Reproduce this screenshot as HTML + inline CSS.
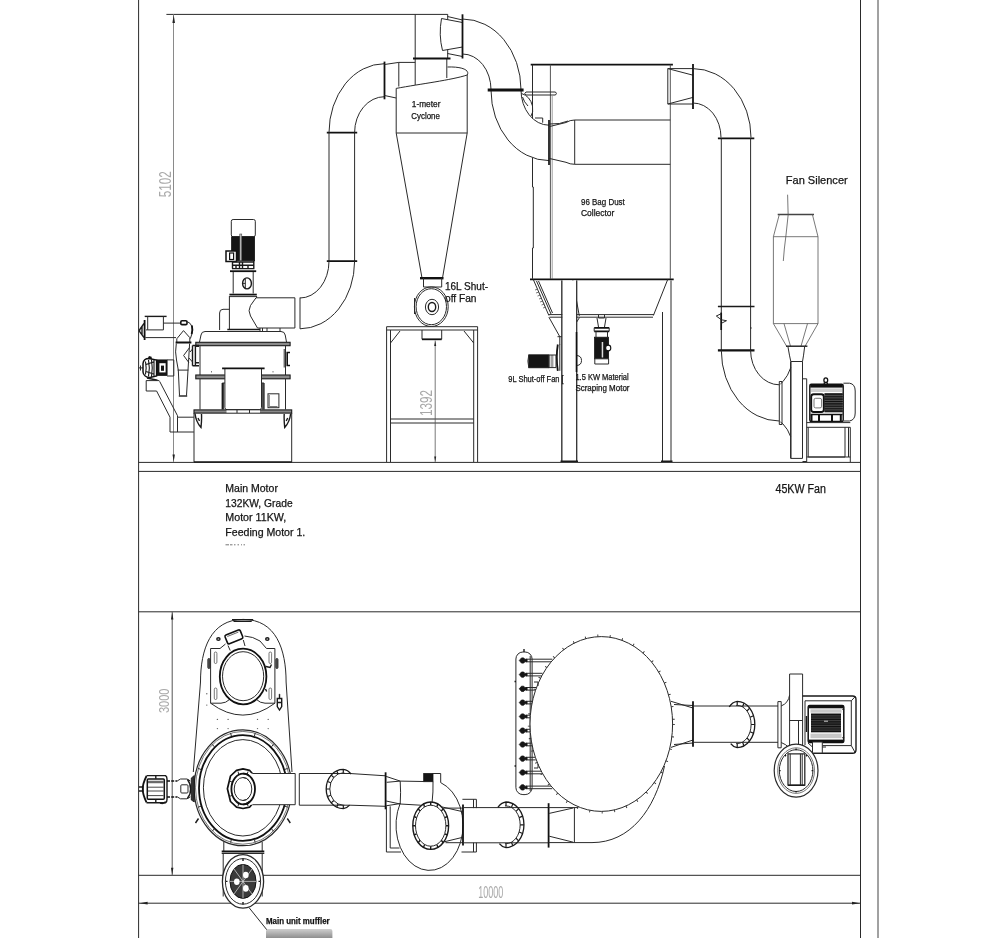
<!DOCTYPE html>
<html>
<head>
<meta charset="utf-8">
<title>Grinding mill system layout</title>
<style>
html,body{margin:0;padding:0;background:#fff;}
body{width:1000px;height:938px;overflow:hidden;font-family:"Liberation Sans",sans-serif;}
svg{display:block;position:absolute;left:0;top:0;filter:blur(0.4px);}
svg text{font-family:"Liberation Sans",sans-serif;}
.l{fill:none;stroke:#2a2a2a;stroke-width:1;}
.t{fill:none;stroke:#111;stroke-width:1.8;}
.m{fill:none;stroke:#1a1a1a;stroke-width:1.4;}
.g{fill:none;stroke:#555;stroke-width:0.8;}
.w{fill:#fff;stroke:#2a2a2a;stroke-width:1;}
.k{fill:#151515;stroke:#151515;stroke-width:0.8;}
.dim{fill:#a8a8a8;font-size:11px;}
.lbl{fill:#151515;stroke:#151515;stroke-width:0.25;}
</style>
</head>
<body>
<svg width="1000" height="938" viewBox="0 0 1000 938">
<rect x="0" y="0" width="1000" height="938" fill="#fff"/>

<!-- ===== FRAME ===== -->
<g id="frame" class="l">
<line x1="138.6" y1="0" x2="138.6" y2="938"/>
<line x1="860.5" y1="0" x2="860.5" y2="938"/>
<line x1="878" y1="0" x2="878" y2="938" style="stroke:#444"/>
<line x1="138.6" y1="462.4" x2="860.5" y2="462.4"/>
<line x1="138.6" y1="471.4" x2="860.5" y2="471.4"/>
<line x1="138.6" y1="611.8" x2="860.5" y2="611.8"/>
<line x1="138.6" y1="875.3" x2="860.5" y2="875.3"/>
<line x1="138.6" y1="903.2" x2="860.5" y2="903.2"/>
<!-- top dimension -->
<line x1="166.4" y1="14.4" x2="447.7" y2="14.4"/>
<line x1="173.5" y1="14.4" x2="173.5" y2="462" style="stroke:#8a8a8a"/>
<line x1="172.2" y1="611.8" x2="172.2" y2="875.3" style="stroke:#555"/>
</g>

<!-- SECTION: FRONT VIEW -->
<g id="ducts-front">
<!-- left riser pipe -->
<path class="l" d="M329,132.6 V261.2 M354.6,132.6 V261.2"/>
<path class="t" d="M326.8,132.6 H357.2 M326.8,261.2 H357.2"/>
<!-- upper-left elbow -->
<path class="l" d="M329,132.6 A55.5,68.9 0 0 1 384.5,63.7 M354.6,132.6 A29.9,35.9 0 0 1 384.5,96.7"/>
<path class="t" d="M384.5,61.6 V99.3"/>
<path class="l" d="M384.5,64.5 L398.8,62.4 H415.2 M398.8,62.4 V86.5 M384.5,95.5 L396.2,98"/>
<!-- lower-left elbow to mill -->
<path class="l" d="M354.6,261.2 A54.6,67.6 0 0 1 300,328.8 M329,261.2 A29,36.8 0 0 1 300,298 M300,297.5 V328.8"/>
<!-- cyclone top pipe -->
<path class="l" d="M415.2,14.3 V85 M447.7,14.3 V58.5 M446.8,58.5 V78"/>
<path class="t" d="M413,58.5 H450.5"/>
<!-- cyclone body -->
<path class="l" d="M396.2,88.4 V133 H467.2 V75 M396.2,88.4 C420,84 452,80 467.2,75 C470,70 462,66.5 447.5,67"/>
<path class="l" d="M396.2,133 L422,278 M467.2,133 L442.5,278"/>
<!-- cyclone outlet box + right elbow -->
<path class="w" d="M441.5,18.5 L462.5,22.5 V47 L442.5,50.5 Q438.5,35 441.5,18.5 Z"/>
<path class="l" d="M447.5,53.5 L462.5,56.5 M447.5,16.5 L462.5,20"/>
<path class="t" d="M462.5,14.3 V58.5"/>
<path class="l" d="M462.5,19 A58.5,70.7 0 0 1 521,89.7 M462.5,54 A28.5,35.7 0 0 1 491,89.7"/>
<!-- cone bottom flange + rotary valve -->
<path class="t" d="M420,278.2 H443.5" style="stroke-width:2.4"/>
<path class="l" d="M423.5,278 V287 M441.7,278 V287 M423.5,287 H441.7"/>
<ellipse class="l" cx="431.3" cy="306.7" rx="16.9" ry="19.8"/>
<ellipse class="l" cx="431.3" cy="306.7" rx="15.2" ry="18"/>
<ellipse class="l" cx="432" cy="307" rx="6.6" ry="7.7"/>
<ellipse class="m" cx="432" cy="307" rx="3.7" ry="4.5"/>
<path class="l" d="M414.5,298 V314"/>
</g>
<g id="mill">
<!-- vertical motor -->
<rect class="w" x="231.3" y="219.5" width="24" height="17.2" rx="1.8"/>
<rect class="k" x="231.6" y="236.8" width="23" height="24"/>
<rect x="239.8" y="234" width="2" height="26.8" fill="#bbb" stroke="#333" stroke-width="0.5"/>
<rect x="226" y="251" width="10.5" height="10.5" fill="#fff" stroke="#111" stroke-width="1.5"/>
<rect x="229.6" y="253" width="4" height="6.5" fill="#fff" stroke="#111" stroke-width="1.2"/>
<path class="m" d="M232.5,262 H253.8 M232.5,265.3 H253.8 M232,268.6 H254.4 M232.5,261 V268.6 M253.8,261 V268.6 M239.5,262 V268.6 M242.5,262 V268.6 M248,265 V268.6 M236,265 V268.6"/>
<path class="t" d="M230,271.2 H256.2"/>
<!-- coupling column -->
<path class="l" d="M233.2,272 V293.5 M253.2,272 V293.5"/>
<ellipse class="m" cx="247" cy="283.4" rx="4.4" ry="5.5"/>
<path class="l" d="M245.3,278.5 V288.3 M243,283.4 H245.3"/>
<path class="t" d="M229.4,294.6 H256.8"/>
<path class="l" d="M229.4,296.6 H256.8"/>
<!-- upper housing + outlet duct -->
<path class="l" d="M229.4,296 V329.5 M256.6,296 V299"/>
<path class="w" d="M256,297.8 H294.9 V328 H257.5 L250.5,316 Q247.6,310.7 250.5,305.5 Z"/>
<path class="l" d="M229.4,309.3 H223 Q219.6,309.3 219.6,313 V330"/>
<path class="m" d="M227.3,329.5 H260"/>
<path class="l" d="M260,328 V331 M262.5,328 V331 M267,328 V331 M280,328 V331"/>
<!-- top plate / body -->
<path class="l" d="M199.5,342 L201,335 Q201.5,331.5 205,331.5 H281 Q284.6,331.5 285.2,335 L286.5,342"/>
<rect x="195.8" y="342.3" width="94.3" height="3.4" fill="#8a8a8a" stroke="#1a1a1a" stroke-width="1.1"/>
<path class="l" d="M200,346 V375 M285.5,346 V375"/>
<rect x="195.8" y="375" width="94.3" height="3.8" fill="#8a8a8a" stroke="#1a1a1a" stroke-width="1.1"/>
<path class="l" d="M200,379 V409.5 M285.5,379 V409.5"/>
<path class="g" d="M211.5,371 v1.5 M273,371 v1.5"/>
<!-- door handle right -->
<path d="M290,352.5 H287.2 V365.5 H290" stroke="#111" stroke-width="1.6" fill="none"/>
<path class="l" d="M284.2,349 V367.5"/>
<!-- centre box -->
<path d="M224.9,368.3 H261.5 V409.7 H224.9 Z" fill="#fff" stroke="none"/>
<path class="l" d="M224.9,368.3 V407.5 Q224.9,409.7 227,409.7 H259.4 Q261.5,409.7 261.5,407.5 V368.3"/>
<path class="t" d="M222.1,368.3 H264.6"/>
<path class="m" d="M222.3,383 V409.5 M263.9,383 V409.5"/>
<path class="l" d="M223.6,383 V409.5 M262.7,383 V409.5 M222.3,383 H224.9 M261.5,383 H263.9"/>
<rect class="l" x="268" y="393.8" width="10.9" height="13.9"/>
<path class="g" d="M269.3,395 V406.5 H277.5"/>
<!-- base -->
<rect x="194" y="409.9" width="97.7" height="3.2" fill="#8a8a8a" stroke="#1a1a1a" stroke-width="1.1"/>
<rect x="226.5" y="410.4" width="33.5" height="2.2" fill="#fff" stroke="none"/>
<path class="l" d="M237,410 V413 M249.5,410 V413"/>
<path class="l" d="M194,413 V462 M291.7,413 V462"/>
<path class="m" d="M194,462 H291.7"/>
<path class="m" d="M195,413.5 Q196,422 201,427.5 Q201.8,420 201.5,414 M198,418 l1.5,3 M290.7,413.5 Q289.7,422 284.7,427.5 Q283.9,420 284.2,414 M287.7,418 l-1.5,3"/>
</g>
<g id="feeder">
<!-- hopper + screw -->
<path class="m" d="M144.7,316.4 H166.6"/>
<path class="l" d="M147.7,316.4 V329.9 H163.4 V316.4"/>
<path class="l" d="M163.4,323.1 H180.5 M145.4,337.6 H176"/>
<path d="M144.6,320 V340" stroke="#111" stroke-width="1.8" fill="none"/>
<path class="m" d="M144,323.5 L139.6,329.8 L139.6,331.6 L144,337.5 M142,326.5 V335"/>
<path class="l" d="M146,329.9 H147.7"/>
<rect x="180.8" y="320.8" width="6.2" height="3.8" rx="1.2" fill="#fff" stroke="#111" stroke-width="1.6"/>
<path class="l" d="M187.2,321.6 Q190.5,322.5 192.2,327 Q193.4,332 190.4,338.6"/>
<path d="M191.9,325.5 Q193,330 191.6,334" stroke="#111" stroke-width="1.8" fill="none"/>
<!-- funnel + separator -->
<path class="l" d="M176.8,338.8 L183.5,330.6 L189.5,337.3 M176.8,338.8 V342 M189.8,337.3 V342"/>
<path d="M175.6,342.5 H191.4" stroke="#111" stroke-width="2" fill="none"/>
<path class="l" d="M176.3,343.5 Q174.8,352 176.5,360 L178.3,370.1 M189.6,343.5 L188,370.1"/>
<path class="l" d="M189.6,347.5 L183.6,355.5 L188.8,362.5"/>
<path class="l" d="M177.6,370.1 H188.4 M178.3,370.1 L179.5,395.5 M188,370.1 L186.5,395.5"/>
<path class="m" d="M178.8,396 H187.2"/>
<!-- inlet nozzle -->
<path class="m" d="M192.5,345.5 V365.7 M195.4,345.5 V365.7 M192.5,345.5 H199 M192.5,365.7 H199 M195.4,346.3 H199 M195.4,362.7 H199"/>
<path class="l" d="M192.5,349 L190,352 M192.5,362 L189,358"/>
<!-- feeder motor -->
<path class="l" d="M138.7,367.9 H143 M140.5,365.5 V370.5"/>
<path d="M143,363.5 Q143.5,358.5 149,358.5 L156.6,360 V376 L150,377.6 Q143.5,377 143,372 Z" fill="#fff" stroke="#111" stroke-width="1.5"/>
<path d="M145.5,361.5 Q146.8,368 145.5,374.5 M148.5,360 Q150.2,368 148.5,376.3 M151.5,359.5 Q153,368 151.5,376.8 M154,359.8 V376.5 M146,364.5 L153.5,362 M146,371.5 L153.5,374" stroke="#111" stroke-width="1.1" fill="none"/>
<path d="M148.5,358.5 L149.3,356.8 L151,357.2 L151.2,359" stroke="#111" stroke-width="1.3" fill="#111"/>
<rect x="156.8" y="359.9" width="10.3" height="15.5" fill="#161616" stroke="#111" stroke-width="0.8"/>
<rect x="159.4" y="363.2" width="6.2" height="9.2" fill="#fff"/>
<rect x="161" y="365.6" width="3" height="5.2" fill="#161616"/>
<path class="l" d="M167.1,359.9 H173.8 V376 H167.1"/>
<path class="m" d="M147,378 L157.5,380.3"/>
<!-- chute -->
<path class="l" d="M146.2,380.6 H159.3 M146.2,380.6 V391 H156.6"/>
<path class="l" d="M159.6,381.3 L177.5,415.7 M156.6,391 L170,417.2 V432 H193.9 M177.5,415.7 V417.2 H193.9 M177.5,417.2 V432"/>
</g>
<g id="dustcollector">
<path class="t" d="M530.7,64.7 H672.9"/>
<path class="l" d="M532.5,64.7 V187 M533.3,187 V248 M532.5,248 V278.7 M532.5,187 H533.3 M532.5,248 H533.3"/>
<path class="l" d="M550.4,64.7 V278.7 M670.3,64.7 V278.7" style="stroke:#555"/>
<path class="g" d="M552.2,96 V278.7" style="stroke:#888"/>
<!-- internal duct -->
<path class="l" d="M549.7,126.5 L566,122.5 Q570,120 574.7,120 H670.3 M549.7,158.5 L566,162.3 Q570,164.3 574.7,164.3 H670.3 M574.7,120 V164.3 M549.7,124 Q560,124.5 568,121"/>
<!-- small pipe -->
<path class="l" d="M526,92 H555.5 Q557.3,93.5 555.5,95 H526 Q523.5,93.5 526,92 Z"/>
<!-- outlet -->
<path class="l" d="M667.8,68.6 V104 M667.8,68.6 H693 M667.8,104 H693 M667.8,68.6 L693,75.2 M667.8,104 L693,97.4"/>
<path class="t" d="M693,64 V109"/>
<path class="l" d="M693,68.6 A58,68.9 0 0 1 751,137.5 M693,103 A28,34.5 0 0 1 721,137.5"/>
<path class="t" d="M717.9,138.3 H754.3"/>
<path class="l" d="M721.3,138.3 V350.3 M750.6,138.3 V350.3"/>
<path class="m" d="M717.9,306.5 H754.5"/>
<path class="t" d="M717.9,350.3 H754.5" style="stroke-width:2.2"/>
<!-- valve handle -->
<path d="M721.2,312.6 V330" fill="none" stroke="#111" stroke-width="1.7"/>
<path class="l" d="M721,313.8 L716.3,316 L721,319.5 M721.4,319.8 L726.5,320.7 L721.6,323.2"/>
<path d="M750.6,326.8 l1.2,1.2 l-1.2,1.2 Z" fill="#222"/>
<!-- hopper -->
<path class="t" d="M530,279.3 H673.7"/>
<path class="l" d="M533.3,279.5 L548.9,315.5 M667.7,279.5 L653.4,315.5 M548.9,314.6 H654 M549.5,317.2 H653"/>
<path class="l" d="M572.8,280 L579.3,315.9 M536.5,281 L551,314 M538.5,281 L552.5,313"/>
<path class="g" d="M535,290 l3,-1 M536,293 l3,-1 M537.5,296 l3,-1 M539,299 l3,-1 M540,302 l3,-1 M541.5,305 l3,-1 M543,308 l3,-1"/>
<!-- legs -->
<path class="w" d="M561.9,280.5 V462 M576.7,280.5 V462"/>
<rect x="562.4" y="280.5" width="13.8" height="181" fill="#fff"/>
<path class="l" d="M561.9,280.5 V462 M576.7,280.5 V462 M662.5,312 V462 M671,280.5 V462"/>
<path class="m" d="M560.5,461.3 H578 M661,461.3 H672.5"/>
<!-- lower funnel & shutoff fan -->
<path class="l" d="M548.9,317.2 L559.8,336.7 M576.7,322 L579.5,317.5 M559.8,336.7 V345 M557.5,336.7 H561.9"/>
<path d="M557.8,344.5 Q555.8,357 557.8,370.8" fill="none" stroke="#111" stroke-width="1.8"/>
<path class="l" d="M559.8,344.5 V370.8"/>
<path d="M576.5,332 V372" fill="none" stroke="#111" stroke-width="1.6"/>
<path class="l" d="M577,355.5 Q581.5,356 581.5,360.5 Q581.5,365 577,365.5"/>
<rect class="k" x="528.8" y="354.8" width="20" height="13"/>
<path class="l" d="M528.8,354.8 Q527,361 528.8,367.8"/>
<path d="M549.5,355 V367.6 M551.2,355 V367.6 M552.8,355 V367.6" stroke="#555" stroke-width="0.8" fill="none"/>
<path class="l" d="M548.8,355 H556 V367.6 H548.8"/>
<!-- scraping motor -->
<path class="l" d="M598.5,314.6 V318 H604.5 V314.6 M597,318 L598.5,327 M606,318 L604.5,327"/>
<path class="t" d="M594.2,327.8 H609.2 M594.2,331.3 H609.2"/>
<path class="l" d="M594.2,327.8 V331.3 M609.2,327.8 V331.3 M596,331.3 V337 M607.5,331.3 V337"/>
<rect class="k" x="594.6" y="337.2" width="14" height="21.6"/>
<rect x="601.7" y="342" width="1.5" height="15.5" fill="#ddd"/>
<ellipse cx="608.2" cy="348" rx="2.6" ry="2.9" fill="#fff" stroke="#111" stroke-width="1.1"/>
<path class="w" d="M594.8,358.8 H608.6 V364 H594.8 Z"/>
</g>
<g id="sbend">
<path d="M491,90 A58,70.6 0 0 0 549,160.6 L549,125.2 A28,35.2 0 0 1 521,90 Z" fill="#fff" stroke="none"/>
<path class="l" d="M491,90 A58,70.6 0 0 0 549,160.6 M521,90 A28,35.2 0 0 0 549,125.2"/>
<path class="t" d="M549,120 V165" style="stroke-width:1.7"/>
<path class="t" style="stroke-width:3" d="M487.7,90 H523.6"/>
<path class="l" d="M521.5,93.5 Q530,96 532.5,106 Q533.5,113 531,116 M522.5,97 Q524,102 528,106"/>
<path class="l" d="M535,118 H542.7 V122.7"/>
</g>
<g id="fan-front">
<!-- lower elbow -->
<path class="l" d="M721.3,350.3 A58,70.7 0 0 0 779.3,421 M750.6,350.3 A28.7,34.5 0 0 0 779.3,384.8"/>
<path class="l" d="M779.3,381.5 V424.5 M782,381.5 V424.5 M779.3,381.5 H782 M779.3,424.5 H782"/>
<!-- fan housing -->
<path class="m" d="M790.8,361.5 V458.4"/>
<path class="l" d="M802.5,361.5 V458.4 M790.8,458.4 H802.5 M790.8,361.5 H802.5"/>
<path class="l" d="M783,381.5 Q788,376 790.8,367.5 M783,424 Q788,429 790.8,437 M780.4,384 L783,381.5 M780.4,422 L783,424"/>
<path class="l" d="M802.5,378.8 H806.7 V462 M802.5,461.5 H806.7"/>
<!-- silencer -->
<path class="m" d="M777.7,214.5 H814" style="stroke:#444"/>
<path class="g" d="M779.3,214.5 L773.4,236.7 V323.6 L786.6,346.2 M812.4,214.5 L818,236.7 V323.6 L805.1,346.2 M773.4,236.7 H818 M773.4,323.6 H818"/>
<path class="g" d="M784,323.6 L790.5,346.2 M807.5,323.6 L801,346.2"/>
<path class="m" d="M786,346.2 H807.4"/>
<path class="l" d="M788,347 Q789.5,356 790.8,361.5 M804.6,347 Q803.6,356 802.5,361.5"/>
<path class="g" d="M787.6,194.7 Q789.5,215 786,235 Q784,250 783.3,261"/>
<!-- motor -->
<rect x="809.8" y="384.3" width="33.4" height="37.2" rx="1.5" fill="#fff" stroke="#111" stroke-width="1.4"/>
<rect x="810.2" y="384" width="32.6" height="3.6" fill="#111"/>
<rect x="811" y="388.4" width="31" height="3.6" fill="#cfcfcf"/>
<rect x="824.5" y="393" width="18.3" height="19.4" fill="#4a4a4a"/>
<path d="M824.5,394.3 H842.8 M824.5,396.7 H842.8 M824.5,399.1 H842.8 M824.5,401.5 H842.8 M824.5,403.9 H842.8 M824.5,406.3 H842.8 M824.5,408.7 H842.8 M824.5,411.1 H842.8" stroke="#111" stroke-width="1.1" fill="none"/>
<rect x="811.2" y="394.2" width="12.6" height="17.8" rx="2.5" fill="#fff" stroke="#111" stroke-width="1.9"/>
<rect x="814" y="398.3" width="7.6" height="9.6" rx="1.6" fill="#fff" stroke="#555" stroke-width="0.8"/>
<path d="M810.5,414.5 H842.5" stroke="#111" stroke-width="1.6" fill="none"/>
<path d="M811.5,415 V421.5 M819,415 V421.5 M832,415 V421.5 M840.8,415 V421.5" stroke="#111" stroke-width="2" fill="none"/>
<path class="l" d="M843.4,383.2 H849.5 Q855.2,384 855.2,391 V413 Q855.2,420 849.5,421 H843.4"/>
<ellipse cx="825.8" cy="380.2" rx="1.9" ry="2.3" fill="#fff" stroke="#111" stroke-width="1.3"/>
<path class="m" d="M824.3,382.5 V384.3 M827.3,382.5 V384.3"/>
<!-- motor base -->
<path class="l" d="M806.7,422.6 H850.3 M806.7,427.3 H850.3 V462 M808.2,427.3 V457 M845,427.3 V457 M808.2,457 H845 M806.7,457 H850.3 M848.5,427.3 V457"/>
</g>
<g id="stand">
<path class="l" d="M386.6,326.7 H477.6 M386.6,330 H477.6 M386.6,326.7 V462 M390.5,330 V462 M473.7,330 V462 M477.6,326.7 V462"/>
<path class="l" d="M390.5,419 H473.7 M390.5,423 H473.7"/>
<path class="l" d="M390.5,343 L400,331 M473.7,343 L464,331"/>
<path class="l" d="M422,330 V339.3 M441.7,330 V339.3"/>
<path class="t" d="M422,339.3 H441.7"/>
<path class="g" d="M435.2,340.5 V462"/>
</g>

<!-- SECTION: PLAN VIEW -->
<g id="plan-mill">
<!-- housing outline -->
<path class="l" d="M193.3,772 L200.5,682 C200.5,649.5 210.5,619.4 243.3,619.4 C276.1,619.4 286.1,649.5 286.1,682 L292,772"/>
<path class="m" d="M232,619.6 H253.2 M233.5,621.4 H251.7"/>
<!-- plate -->
<path class="l" d="M210.6,648.5 V703.2 M274.9,648.5 V703.2 M210.6,648.5 H220 L225.5,644 M274.9,648.5 H266.5 L260,641 Q253,636.5 244.5,636 M210.6,703.2 H221 Q226,703 229.5,699.5 M274.9,703.2 H265 Q260,703 256.5,699.5"/>
<path class="l" d="M210.6,703.2 Q243,727 274.9,703.2"/>
<!-- rotated small box -->
<path class="l" d="M228,645.5 L230.2,650.5 M243.3,640 L245,646"/>
<g transform="translate(233.9,636.9) rotate(-21.8)">
<rect x="-8.2" y="-4.7" width="16.4" height="9.4" rx="1.5" fill="#fff" stroke="#111" stroke-width="1.6"/>
<path class="g" d="M-6,-2.8 H6"/>
</g>
<ellipse class="m" cx="218.4" cy="639" rx="1.6" ry="1.2"/>
<ellipse class="m" cx="267.3" cy="639" rx="1.6" ry="1.2"/>
<!-- slots -->
<rect class="g" x="214.3" y="652" width="2.6" height="11.5" rx="1.3"/>
<rect class="g" x="269" y="652" width="2.6" height="11.5" rx="1.3"/>
<rect class="g" x="214.3" y="688" width="2.6" height="11.5" rx="1.3"/>
<rect class="g" x="269" y="688" width="2.6" height="11.5" rx="1.3"/>
<rect x="207.8" y="658.5" width="2.2" height="10" rx="1" fill="#555" stroke="#222" stroke-width="0.8"/>
<rect x="275.8" y="658.5" width="2.2" height="10" rx="1" fill="#555" stroke="#222" stroke-width="0.8"/>
<!-- round opening -->
<ellipse class="t" cx="243.1" cy="676.5" rx="23.3" ry="27.8" style="stroke-width:1.8"/>
<ellipse class="l" cx="243.1" cy="676.2" rx="20.6" ry="24.5"/>
<path class="m" d="M266,666.5 L270,667.5 L271.5,664.5 M265.5,689 l1.2,2.5"/>
<!-- small device -->
<path class="m" d="M277.3,698.5 H281.7 V706.5 L279.5,710 L277.3,706.5 Z M277.3,702.5 H281.7 M279.5,695 V698.5"/>
<circle cx="279.5" cy="694.5" r="0.8" fill="#333"/>
<!-- dots -->
<g fill="#666"><circle cx="217.4" cy="719.4" r="0.7"/><circle cx="228.1" cy="719.4" r="0.7"/><circle cx="257.5" cy="719.4" r="0.7"/><circle cx="268.2" cy="719.4" r="0.7"/><circle cx="217.4" cy="728.6" r="0.7"/><circle cx="228.1" cy="728.6" r="0.7"/><circle cx="257.5" cy="728.6" r="0.7"/><circle cx="268.2" cy="728.6" r="0.7"/><circle cx="206.8" cy="693.8" r="0.7"/><circle cx="206.8" cy="705.1" r="0.7"/></g>
<!-- main body rings -->
<ellipse class="w" cx="242.9" cy="787.8" rx="48.8" ry="57.9" style="stroke-width:1.2"/>
<ellipse class="g" cx="242.9" cy="787.8" rx="47.4" ry="56.4"/>
<ellipse class="t" cx="242.9" cy="788.0" rx="43.9" ry="52.9"/>
<ellipse class="l" cx="242.9" cy="787.8" rx="39.5" ry="48.2"/>
<path class="l" d="M284.7,769.5 L287.6,768.4 M271.5,746.8 L273.5,744.4 M254.4,736.1 L255.2,733.1 M231.4,736.1 L230.6,733.1 M214.3,746.8 L212.3,744.4 M201.1,769.5 L198.2,768.4 M201.1,806.1 L198.2,807.2 M214.3,828.8 L212.3,831.2 M231.4,839.5 L230.6,842.5 M254.4,839.5 L255.2,842.5 M271.5,828.8 L273.5,831.2 M284.7,806.1 L287.6,807.2 "/>
<path class="m" d="M198.5,818.5 l-3,4.5 M287.3,818.5 l3,4.5"/>
<!-- hub -->
<path d="M236.5,770.3 L243,768.9 L249.5,770.3 L254.5,776 L256.8,788.7 L254.5,801.5 L249.5,807.2 L243,808.5 L236.5,807.2 L230.5,801.5 L227.4,788.7 L230.5,776 Z" fill="#fff" stroke="#111" stroke-width="1.7" stroke-linejoin="round"/>
<path class="l" d="M238,771.5 L238.8,774.3 M248,771.5 L247.2,774.3 M229.2,781 L232,782 M229.2,796.5 L232,795.5 M238,806 L238.8,803.2 M248,806 L247.2,803.2"/>
<ellipse class="t" cx="243.2" cy="789" rx="11.8" ry="15.4" style="stroke-width:1.8"/>
<ellipse class="l" cx="243" cy="789" rx="8.8" ry="11.5"/>
<!-- outlet duct -->
<path d="M249,773.5 H295.2 V804.7 H249 Z" fill="#fff" stroke="none"/>
<path class="l" d="M252.5,773.5 H295.2 V804.7 H252.5"/>
<path d="M243.2,773.6 A11.8,15.4 0 0 1 243.2,804.4" fill="none" stroke="#111" stroke-width="1.8"/>
<path d="M243,777.5 A8.8,11.5 0 0 1 243,800.5" class="l"/>
<!-- left drive motor -->
<path class="m" d="M139,787 H142.8 M139,791 H142.8 M142.8,786 V792"/>
<path d="M146.5,776 Q142.5,784 142.8,789 Q142.5,794 146.5,802.3" fill="none" stroke="#111" stroke-width="1.8"/>
<path class="m" d="M146.5,775.6 H165.5 Q167,776.5 167,779 V799.5 Q167,802 165.5,802.8 H146.5"/>
<rect x="147.3" y="779" width="17" height="20.2" rx="1" fill="#fff" stroke="#111" stroke-width="1.5"/>
<path d="M148,781.3 H163.6 M148,782.7 H163.6 M148,787.2 H163.6 M148,791 H163.6 M148,795.6 H163.6" stroke="#333" stroke-width="0.9" fill="none"/>
<path class="m" d="M155.8,776 V778.8 M155.8,799.4 V802.4 M160,803.2 Q164,804.5 165.5,801.5"/>
<path d="M167,780.9 H177.3 M167,796.9 H177.3" fill="none" stroke="#111" stroke-width="1.5" stroke-dasharray="3 1.2"/>
<path class="l" d="M177.3,780.9 L180.5,779 H187 L190.3,780.9 M177.3,796.9 L180.5,798.8 H187 L190.3,796.9"/>
<path class="m" d="M187.5,779.5 Q190.8,784 190.6,789 Q190.8,794 187.5,798.3"/>
<rect class="l" x="180.8" y="784.8" width="7.2" height="8.2" rx="1"/>
<path d="M191.3,778 L194.3,775.5 V802 L191.3,800 Z" fill="#333" stroke="#111" stroke-width="0.8"/>
<!-- bottom neck & muffler -->
<path class="l" d="M223.8,842 V851.5 M262.2,842 V851.5"/>
<path class="t" d="M221.7,851.5 H264.3"/>
<path class="l" d="M221.7,853.5 H264.3 M223.2,853.5 V896.5 M262.2,853.5 V896.5"/>
<ellipse class="w" cx="243" cy="881.4" rx="20.6" ry="26.7" style="stroke-width:1.3"/>
<ellipse class="l" cx="243" cy="881.4" rx="17.6" ry="22.8"/>
<ellipse cx="243" cy="881.4" rx="13" ry="17" fill="#3a3a3a" stroke="#111" stroke-width="1"/>
<path d="M243,864.4 V898.4 M230,881.4 H256 M234,869 L252,894 M252,869 L234,894" stroke="#ddd" stroke-width="0.7" fill="none"/>
<ellipse cx="245.8" cy="875" rx="2.8" ry="3.3" fill="#fff"/>
<ellipse cx="236.8" cy="881.8" rx="2.8" ry="3.3" fill="#fff"/>
<ellipse cx="245.8" cy="888.4" rx="2.8" ry="3.3" fill="#fff"/>
<path class="m" d="M243,858.5 V861 M243,902 V904.5 M225.5,881.4 h2 M258.5,881.4 h2"/>
</g>

<g id="plan-ducts">
<!-- duct 1 -->
<path class="l" d="M299.3,773.5 V805.2 M299.3,773.5 H350 L385.6,775.8 M299.3,805.2 H350 L385.6,806.3"/>
<g transform="translate(343.3,789)">
<path d="M7.7,-15 Q4.7,-19 0,-19.6 A17.1,19.6 0 0 0 0,19.6 Q4,19 6.3,16.2" fill="none" stroke="#1a1a1a" stroke-width="1.3" vector-effect="non-scaling-stroke"/>
<path d="M1,-16.2 H0 A13.5,16.2 0 0 0 0,16.2 H1" fill="none" stroke="#2a2a2a" stroke-width="1" vector-effect="non-scaling-stroke"/>
<path d="M0,-19.6 V-16.2 M0,16.2 V19.6 M-17.1,0 H-13.5 M-12.1,-13.9 L-9.5,-11.5 M-12.1,13.9 L-9.5,11.5 M-15.8,-7.5 L-12.5,-6.2 M-15.8,7.5 L-12.5,6.2 M-6.5,-18.1 L-5.2,-15 M-6.5,18.1 L-5.2,15" fill="none" stroke="#1a1a1a" stroke-width="1.2" vector-effect="non-scaling-stroke"/>
</g>
<path class="t" d="M385.6,772.3 V809.3"/>
<!-- fan base -->
<path class="l" d="M386.4,806.3 V852 H401 M390.2,806.3 V848 H399.5"/>
<path class="l" d="M462.4,799.3 H476.4 V808.1 M473.5,799.3 V808.1 M473.5,842.7 V852 M476.4,842.7 V852 H461.5"/>
<!-- taper + volute -->
<path class="l" d="M386.1,776.4 L400.2,781.1 L423.7,781.5 M386.1,801 L400.2,804 L420.7,805.2 M400.2,781.1 Q401,792 400.2,804 M386.7,782.3 L400.2,781.1 M386.1,805.8 L400.2,803.6"/>
<rect class="k" x="423.7" y="773.5" width="9.3" height="8.2"/>
<path class="l" d="M433,773.5 H440.7 V782.6"/>
<path class="l" d="M433,781.7 Q433.3,792 432.1,802.2"/>
<path class="l" d="M440.7,782.6 A33.5,45.2 0 1 1 400.2,803.3"/>
<ellipse class="m" cx="430.7" cy="825.7" rx="17.9" ry="23.7"/>
<ellipse class="l" cx="430.7" cy="825.7" rx="15.2" ry="20.5"/>
<path class="m" d="M430.7,802 v3.2 M430.7,846.2 v3.2 M412.8,825.7 h2.7 M445.9,825.7 h2.7 M418.2,808.7 l1.9,2.4 M443.2,808.7 l-1.9,2.4 M418.2,842.7 l1.9,-2.4 M443.2,842.7 l-1.9,-2.4 M414,816.5 l2.5,1.2 M447.4,816.5 l-2.5,1.2 M414,835 l2.5,-1.2 M447.4,835 l-2.5,-1.2 M423.5,803.8 l1,3 M437.9,803.8 l-1,3 M423.5,847.6 l1,-3 M437.9,847.6 l-1,-3"/>
<!-- outlet to dust collector -->
<path class="l" d="M441.8,806.9 L462.4,811.6 M443,842.1 L462.4,837.4 M444,808.1 H463 M445.5,842.7 H463"/>
<path class="t" d="M463,804.6 V845.6"/>
<path class="l" d="M463,807.6 H548.6 M463,842.8 H548.6"/>
<g transform="translate(506,824.8) scale(-1.05,1.163)">
<path d="M7.7,-15 Q4.7,-19 0,-19.6 A17.1,19.6 0 0 0 0,19.6 Q4,19 6.3,16.2" fill="none" stroke="#1a1a1a" stroke-width="1.3" vector-effect="non-scaling-stroke"/>
<path d="M1,-16.2 H0 A13.5,16.2 0 0 0 0,16.2 H1" fill="none" stroke="#2a2a2a" stroke-width="1" vector-effect="non-scaling-stroke"/>
<path d="M0,-19.6 V-16.2 M0,16.2 V19.6 M-17.1,0 H-13.5 M-12.1,-13.9 L-9.5,-11.5 M-12.1,13.9 L-9.5,11.5 M-15.8,-7.5 L-12.5,-6.2 M-15.8,7.5 L-12.5,6.2 M-6.5,-18.1 L-5.2,-15 M-6.5,18.1 L-5.2,15" fill="none" stroke="#1a1a1a" stroke-width="1.2" vector-effect="non-scaling-stroke"/>
</g>
<path class="t" d="M548.6,803.2 V847.6"/>
<path class="l" d="M548.6,807.6 H578 M548.6,842.6 H592 M549.2,813.4 L573.2,808 M549.2,836.2 L573.2,842.2 M574.4,807.6 V842.6"/>
<path class="l" d="M592,842.6 C630,842.6 655,810 664.5,766"/>
</g>
<g id="plan-collector">
<rect class="l" x="515.9" y="652" width="16.2" height="142.6" rx="7"/>
<path class="l" d="M530.2,656 V791"/>
<path class="m" d="M524,649 v3 M516,681.5 h-1.5 M516,766 h-1.5"/>
<path class="l" d="M526,659.2 H552.3 M526,661.8 H552.3"/>
<path class="k" d="M519.3,660.5 l2.2,-2.6 h2.2 l1.2,1.4 h2.2 v2.4 h-2.2 l-1.2,1.4 h-2.2 Z"/>
<path class="l" d="M526,673.3 H542.5 M526,675.9 H542.5"/>
<path class="k" d="M519.3,674.6 l2.2,-2.6 h2.2 l1.2,1.4 h2.2 v2.4 h-2.2 l-1.2,1.4 h-2.2 Z"/>
<path class="l" d="M526,687.5 H536.0 M526,690.1 H536.0"/>
<path class="k" d="M519.3,688.8 l2.2,-2.6 h2.2 l1.2,1.4 h2.2 v2.4 h-2.2 l-1.2,1.4 h-2.2 Z"/>
<path class="l" d="M526,701.3 H532.2 M526,703.9 H532.2"/>
<path class="k" d="M519.3,702.6 l2.2,-2.6 h2.2 l1.2,1.4 h2.2 v2.4 h-2.2 l-1.2,1.4 h-2.2 Z"/>
<path class="l" d="M526,715.2 H530.3 M526,717.8 H530.3"/>
<path class="k" d="M519.3,716.5 l2.2,-2.6 h2.2 l1.2,1.4 h2.2 v2.4 h-2.2 l-1.2,1.4 h-2.2 Z"/>
<path class="l" d="M526,729.3 H530.2 M526,731.9 H530.2"/>
<path class="k" d="M519.3,730.6 l2.2,-2.6 h2.2 l1.2,1.4 h2.2 v2.4 h-2.2 l-1.2,1.4 h-2.2 Z"/>
<path class="l" d="M526,743.2 H532.0 M526,745.8 H532.0"/>
<path class="k" d="M519.3,744.5 l2.2,-2.6 h2.2 l1.2,1.4 h2.2 v2.4 h-2.2 l-1.2,1.4 h-2.2 Z"/>
<path class="l" d="M526,757.3 H535.8 M526,759.9 H535.8"/>
<path class="k" d="M519.3,758.6 l2.2,-2.6 h2.2 l1.2,1.4 h2.2 v2.4 h-2.2 l-1.2,1.4 h-2.2 Z"/>
<path class="l" d="M526,771.2 H542.0 M526,773.8 H542.0"/>
<path class="k" d="M519.3,772.5 l2.2,-2.6 h2.2 l1.2,1.4 h2.2 v2.4 h-2.2 l-1.2,1.4 h-2.2 Z"/>
<path class="l" d="M526,786.1 H552.2 M526,788.7 H552.2"/>
<path class="k" d="M519.3,787.4 l2.2,-2.6 h2.2 l1.2,1.4 h2.2 v2.4 h-2.2 l-1.2,1.4 h-2.2 Z"/>

<ellipse class="w" cx="601.3" cy="724" rx="71.3" ry="87.4"/>
<ellipse cx="601.3" cy="724" rx="72.3" ry="88.4" fill="none" stroke="#333" stroke-width="2.4" stroke-dasharray="0.9 11.6"/>
<path class="l" d="M534,682 h4 v4 M534,768 h4 v-4"/>
<!-- outlet -->
<path class="l" d="M671,701.3 L693,708 M671,747.4 L693,740 M674,704.5 L693,705.5 M674,744.5 L693,743"/>
<path class="t" d="M693,701.3 V746.7"/>
<path class="l" d="M693,706 H778 M693,742.3 H778"/>
<g transform="translate(737.2,724.5) scale(-1.03,1.175)">
<path d="M7.7,-15 Q4.7,-19 0,-19.6 A17.1,19.6 0 0 0 0,19.6 Q4,19 6.3,16.2" fill="none" stroke="#1a1a1a" stroke-width="1.3" vector-effect="non-scaling-stroke"/>
<path d="M1,-16.2 H0 A13.5,16.2 0 0 0 0,16.2 H1" fill="none" stroke="#2a2a2a" stroke-width="1" vector-effect="non-scaling-stroke"/>
<path d="M0,-19.6 V-16.2 M0,16.2 V19.6 M-17.1,0 H-13.5 M-12.1,-13.9 L-9.5,-11.5 M-12.1,13.9 L-9.5,11.5 M-15.8,-7.5 L-12.5,-6.2 M-15.8,7.5 L-12.5,6.2 M-6.5,-18.1 L-5.2,-15 M-6.5,18.1 L-5.2,15" fill="none" stroke="#1a1a1a" stroke-width="1.2" vector-effect="non-scaling-stroke"/>
</g>
</g>
<g id="plan-fan">
<path class="l" d="M777.9,701.6 H781.2 V747.8 H777.9 Z"/>
<path class="l" d="M781.2,706 Q788.5,703 789.6,695 M781.2,742.5 Q786,744 789.6,748.5"/>
<path class="w" d="M789.6,674 H802.6 V753 M789.6,674 V752"/>
<path class="l" d="M789.6,720.5 H802.6 M798.5,720.5 V752"/>
<!-- motor base -->
<path class="m" d="M802.6,696 H852.5 Q856,696 856,699.5 V749.8 Q856,753.3 852.5,753.3 H802.6"/>
<path class="l" d="M805,700.8 H851.3 V745.6 H822.3 M855.2,696.6 L851.3,700.8 M855.2,752.6 L851.3,745.6 M805,700.8 V745"/>
<!-- motor -->
<rect x="808.2" y="705.5" width="35.6" height="37" rx="1.5" fill="#fff" stroke="#111" stroke-width="1.5"/>
<rect x="809" y="705.3" width="34" height="3" fill="#111"/>
<rect x="809" y="739.6" width="34" height="3" fill="#111"/>
<rect x="810.5" y="709.3" width="31" height="3.4" fill="#c8c8c8"/>
<rect x="810.5" y="733.6" width="31" height="4.6" fill="#c8c8c8"/>
<rect x="811" y="713.4" width="30" height="19" fill="#3c3c3c"/>
<path d="M811,714.6 H841 M811,717 H841 M811,719.4 H841 M811,721.8 H841 M811,724.2 H841 M811,726.6 H841 M811,729 H841 M811,731.4 H841" stroke="#111" stroke-width="1.2" fill="none"/>
<path d="M824,721.2 h4" stroke="#ccc" stroke-width="1" fill="none"/>
<path class="m" d="M842.5,709 l1.5,1 M842.5,738 l1.5,-1 M806.5,716 V732"/>
<rect class="w" x="812.5" y="742" width="9.8" height="11"/>
<path class="l" d="M808,743 L812.5,747 M822.3,747 H826"/>
<!-- silencer (top view) -->
<ellipse class="w" cx="796.1" cy="770.6" rx="21.9" ry="26.5" style="stroke-width:1.2"/>
<ellipse class="l" cx="796.1" cy="770.6" rx="16.8" ry="20.9"/>
<ellipse class="g" cx="796.1" cy="770.6" rx="18.4" ry="22.8"/>
<path class="w" d="M788,753.8 H804.8 V785.1 H788 Z" style="stroke-width:1.3"/>
<path class="l" d="M790.2,753.8 V785.1 M802.2,753.8 V785.1 M800.4,753.8 V785.1"/>
<path class="m" d="M788,785.3 H804.8"/>
<path class="m" d="M796.1,748.6 v1.6 M796.1,791 v1.6 M779,770.6 h1.6 M811.6,770.6 h1.6 M785,755 l1,1.3 M807.2,755 l-1,1.3"/>
</g>
<!-- SECTION: TEXT -->
<g id="labels" class="lbl">
<text x="411.8" y="107.2" font-size="8.6" textLength="28.6" lengthAdjust="spacingAndGlyphs" >1-meter</text>
<text x="411.3" y="118.6" font-size="8.6" textLength="28.6" lengthAdjust="spacingAndGlyphs" >Cyclone</text>
<text x="445" y="290" font-size="10.4" textLength="43" lengthAdjust="spacingAndGlyphs" >16L Shut-</text>
<text x="445" y="302.2" font-size="10.4" textLength="31.5" lengthAdjust="spacingAndGlyphs" >off Fan</text>
<text x="581" y="205.2" font-size="9.2" textLength="43.8" lengthAdjust="spacingAndGlyphs" >96 Bag Dust</text>
<text x="581" y="215.8" font-size="9.2" textLength="33.4" lengthAdjust="spacingAndGlyphs" >Collector</text>
<text x="508.3" y="381.8" font-size="8.4" textLength="55.4" lengthAdjust="spacingAndGlyphs" >9L Shut-off Fan [</text>
<text x="575.4" y="380.2" font-size="8.4" textLength="53.3" lengthAdjust="spacingAndGlyphs" >1.5 KW Material</text>
<text x="575.4" y="390.6" font-size="8.4" textLength="54.1" lengthAdjust="spacingAndGlyphs" >Scraping Motor</text>
<text x="785.8" y="183.7" font-size="11.2" textLength="61.9" lengthAdjust="spacingAndGlyphs" >Fan Silencer</text>
<text x="775.5" y="492.8" font-size="12" textLength="50.4" lengthAdjust="spacingAndGlyphs" >45KW Fan</text>
<text x="225.3" y="491.7" font-size="10.3" textLength="52.6" lengthAdjust="spacingAndGlyphs" >Main Motor</text>
<text x="225.3" y="506.6" font-size="10.3" textLength="67.3" lengthAdjust="spacingAndGlyphs" >132KW, Grade</text>
<text x="225.3" y="521.2" font-size="10.3" textLength="61" lengthAdjust="spacingAndGlyphs" >Motor 11KW,</text>
<text x="225.3" y="535.9" font-size="10.3" textLength="80" lengthAdjust="spacingAndGlyphs" >Feeding Motor 1.</text>
<text x="266" y="924.2" font-size="8.6" textLength="63.6" lengthAdjust="spacingAndGlyphs" font-weight="bold" fill="#111">Main unit muffler</text>
</g>
<!-- clipped 5th line remnants -->
<path d="M225.5,544.8 h3.5 M230,544.8 h2.5 M234,544.8 h1.5 M237.5,544.8 h1.5 M241,544.8 h1 M243.5,544.8 h1.5" stroke="#777" stroke-width="1" fill="none"/>
<g id="dims" class="dim">
<text transform="translate(170.7,197.3) rotate(-90) scale(1,1.42)" font-size="11.7" textLength="26" lengthAdjust="spacingAndGlyphs">5102</text>
<text transform="translate(432.4,416) rotate(-90) scale(1,1.4)" font-size="11.7" textLength="26" lengthAdjust="spacingAndGlyphs">1392</text>
<text transform="translate(169.2,713) rotate(-90) scale(1,1.3)" font-size="11.2" textLength="24.5" lengthAdjust="spacingAndGlyphs">3000</text>
<text transform="translate(478.2,898) scale(1,1.7)" font-size="9.4" textLength="25" lengthAdjust="spacingAndGlyphs">10000</text>
</g>
<!-- arrows -->
<g fill="#222" stroke="none">
<path d="M173.7,15 l-1.3,8 h2.6 Z"/>
<path d="M173.7,461.5 l-1.2,-7 h2.4 Z"/>
<path d="M172.2,612.5 l-1.2,7 h2.4 Z"/>
<path d="M172.2,874.8 l-1.2,-7 h2.4 Z"/>
<path d="M139.6,903.2 l8,-1.4 v2.8 Z"/>
<path d="M860,903.2 l-8,-1.4 v2.8 Z"/>
<path d="M435.2,341 l-1,5 h2 Z"/>
<path d="M435.2,461.5 l-1,-5 h2 Z"/>
</g>
<!-- muffler leader + grey tab -->
<path class="l" d="M249,907.6 L267,930"/>
<defs><linearGradient id="gr" x1="0" y1="0" x2="0" y2="1"><stop offset="0" stop-color="#cfcfcf"/><stop offset="1" stop-color="#8e8e8e"/></linearGradient></defs>
<path d="M266,938 V931 Q266,929 268,929 H330.4 Q332.4,929 332.4,931 V938 Z" fill="url(#gr)"/>

</svg>
</body>
</html>
